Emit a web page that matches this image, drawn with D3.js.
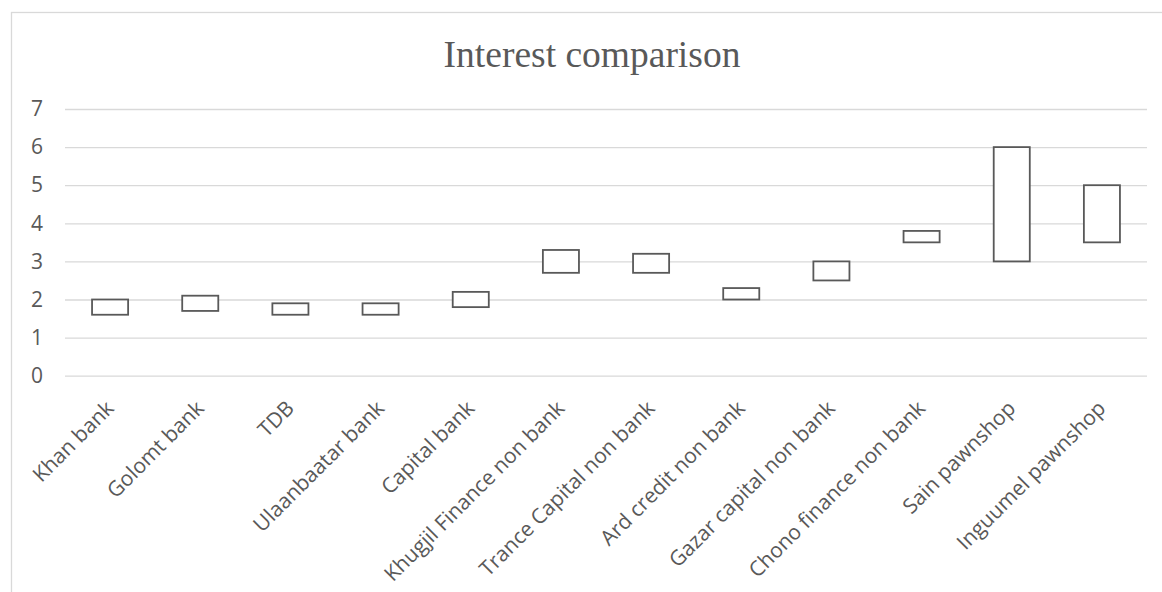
<!DOCTYPE html>
<html><head><meta charset="utf-8">
<script src="https://cdn.jsdelivr.net/npm/d3@7"></script>
<style>html,body{margin:0;padding:0;background:#fff;}</style>
</head><body>
<svg id="chart" width="1162" height="592"></svg>
<script>
const categories = ["Khan bank","Golomt bank","TDB","Ulaanbaatar bank","Capital bank","Khugjil Finance non bank","Trance Capital non bank","Ard credit non bank","Gazar capital non bank","Chono finance non bank","Sain pawnshop","Inguumel pawnshop"];
const lowValues  = [1.6,1.7,1.6,1.6,1.8,2.7,2.7,2.0,2.5,3.5,3.0,3.5];
const highValues = [2.0,2.1,1.9,1.9,2.2,3.3,3.2,2.3,3.0,3.8,6.0,5.0];
const yTicks = [0,1,2,3,4,5,6,7];
const title = "Interest comparison";

const svg = d3.select("#chart");
const grey = "#595959";

svg.append("rect").attr("x",11.5).attr("y",12.5).attr("width",1200).attr("height",620)
  .attr("fill","#fff").attr("stroke","#d9d9d9").attr("stroke-width",1.3);

const x = d3.scaleBand().domain(categories).range([65,1147]).paddingInner(0.6).paddingOuter(0.3);
const y = d3.scaleLinear().domain([0,7]).range([375.7,109]);

svg.append("text").attr("x",592).attr("y",67).attr("text-anchor","middle")
  .attr("font-family","'Liberation Serif','Times New Roman',serif").attr("font-size",37.5)
  .attr("fill",grey).text(title);

// gridlines + y labels
const yAxis = d3.axisLeft(y).tickValues(yTicks).tickSize(-(1147-65)).tickFormat(d3.format("d")).tickPadding(22);
const gy = svg.append("g").attr("transform","translate(65,0)").call(yAxis);
gy.select(".domain").remove();
gy.selectAll(".tick line").attr("stroke","#d9d9d9").attr("stroke-width",1.3);
gy.selectAll(".tick text").attr("font-family","'Open Sans',sans-serif").attr("font-size",21).attr("fill",grey);

// x axis labels
const xAxis = d3.axisBottom(x).tickSize(0).tickPadding(0);
const gx = svg.append("g").attr("transform","translate(0,375.7)").call(xAxis);
gx.select(".domain").remove();
gx.selectAll(".tick text")
  .attr("font-family","'Open Sans',sans-serif").attr("font-size",21).attr("fill",grey)
  .attr("text-anchor","end").attr("dy",0).attr("y",0)
  .attr("transform","translate(5,34) rotate(-45)");

// boxes
svg.append("g").selectAll("rect").data(categories).join("rect")
  .attr("x",d=>x(d)).attr("width",x.bandwidth())
  .attr("y",(d,i)=>y(highValues[i]))
  .attr("height",(d,i)=>y(lowValues[i])-y(highValues[i]))
  .attr("fill","#fff").attr("stroke",grey).attr("stroke-width",1.8);
</script>
</body></html>
